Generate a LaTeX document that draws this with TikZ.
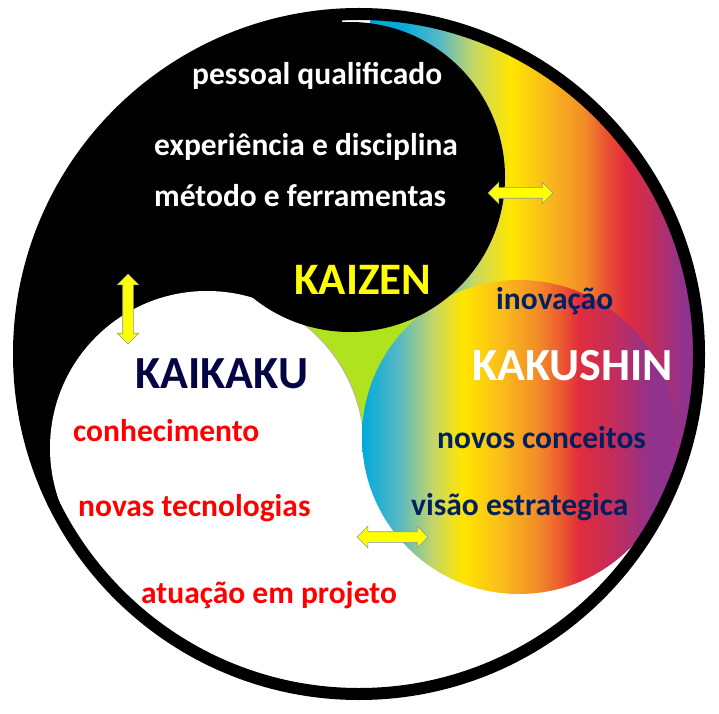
\documentclass[tikz,border=0pt]{standalone}
\usepackage{fontspec}
\setmainfont{Carlito}
\usetikzlibrary{shapes.arrows}

\definecolor{rbcyan}{RGB}{0,170,220}
\definecolor{rbteal}{RGB}{90,185,195}
\definecolor{rbyg}{RGB}{200,215,100}
\definecolor{rbyellow}{RGB}{255,230,0}
\definecolor{rbgold}{RGB}{250,190,25}
\definecolor{rborange}{RGB}{242,140,40}
\definecolor{rbredor}{RGB}{235,85,50}
\definecolor{rbred}{RGB}{225,45,60}
\definecolor{rbcrimson}{RGB}{195,45,90}
\definecolor{rbpurple}{RGB}{145,50,140}
\definecolor{kzgreen}{RGB}{176,226,30}
\definecolor{kzyellow}{RGB}{255,255,0}
\definecolor{kknavy}{RGB}{5,5,70}
\definecolor{ksnavy}{RGB}{0,32,96}
\definecolor{arrowgray}{RGB}{140,150,160}

% the path box is mapped onto 25bp..75bp
\pgfdeclarehorizontalshading{rainbow}{100bp}{color(0bp)=(rbcyan); color(25bp)=(rbcyan); color(31bp)=(rbteal); color(36.5bp)=(rbyg); color(41bp)=(rbyellow); color(47bp)=(rbgold); color(53bp)=(rborange); color(57bp)=(rbredor); color(59.5bp)=(rbred); color(65bp)=(rbcrimson); color(71bp)=(rbpurple); color(100bp)=(rbpurple)}
\pgfdeclarehorizontalshading{rainbowtail}{100bp}{color(0bp)=(rbcyan); color(29.5bp)=(rbcyan); color(35.5bp)=(rbteal); color(40.5bp)=(rbyg); color(46bp)=(rbyellow); color(51bp)=(rbgold); color(57bp)=(rborange); color(60bp)=(rbredor); color(63bp)=(rbred); color(67bp)=(rbcrimson); color(71.5bp)=(rbpurple); color(100bp)=(rbpurple)}

\begin{document}
\begin{tikzpicture}[x=1pt, y=1pt,
	txt/.style={inner sep=0pt, anchor=base west, font=\bfseries\fontsize{31.5}{36}\selectfont},
	bigname/.style={inner sep=0pt, anchor=base west, font=\bfseries\fontsize{46}{50}\selectfont},
	linkarrow/.style={double arrow, draw=arrowgray, fill=kzyellow, line width=0.6pt, inner xsep=0pt, inner ysep=5pt, double arrow head extend=5.5pt}]
	%
	\fill [white] (0,0) rectangle (719,713);
	\useasboundingbox (0,0) rectangle (719,713);
	\coordinate (O) at (359,359);
	\coordinate (B) at (350,536);
	\coordinate (W) at (207,265);
	\coordinate (R) at (519,276);
	%
	\begin{scope}
		\clip (O) -- ++(-27.4:340) arc [start angle=-27.4, end angle=92.9, radius=340] -- cycle;
		\shade [shading=rainbowtail] (370,0) rectangle (705,713);
	\end{scope}
	\fill [black] (O) -- ++(92.9:340) arc [start angle=92.9, end angle=211.7, radius=340] -- cycle;
	%
	\fill [kzgreen] (B) -- (W) -- (R) -- cycle;
	\fill [white] (W) circle [radius=157];
	\draw [gray!60, line width=0.8pt] (W) ++(55:157) arc [start angle=55, end angle=2, radius=157];
	\shade [shading=rainbow] (R) circle [radius=157];
	\fill [black] (B) circle [radius=155];
	%
	\draw [line width=12pt] (O) circle [radius=340];
	%
	\node [linkarrow, minimum height=70pt, rotate=90] (kaizenkaikaku) at (128,404) {};
	\node [linkarrow, minimum height=65pt] (kaizenkakushin) at (520.5,520) {};
	\node [linkarrow, minimum height=71pt] (kaikakukakushin) at (392.5,176) {};
	%
	\node [txt, white] (pessoal) at (192,628) {pessoal qualificado};
	\node [txt, white] (experiencia) at (154,557) {experiência e disciplina};
	\node [txt, white] (metodo) at (154,506) {método e ferramentas};
	\node [bigname, kzyellow, font=\bfseries\fontsize{45}{50}\selectfont] (kaizen) at (294,418) {KAIZEN};
	%
	\node [bigname, kknavy] (kaikaku) at (135,325) {KAIKAKU};
	\node [txt, red] (conhecimento) at (73,272) {conhecimento};
	\node [txt, red] (tecnologias) at (78,197) {novas tecnologias};
	\node [txt, red] (projeto) at (141,110) {atuação em projeto};
	%
	\node [bigname, white] (kakushin) at (472,333) {KAKUSHIN};
	\node [txt, ksnavy] (inovacao) at (496,404) {inovação};
	\node [txt, ksnavy] (conceitos) at (437,265) {novos conceitos};
	\node [txt, ksnavy] (visao) at (411,198) {visão estrategica};
\end{tikzpicture}
\end{document}
